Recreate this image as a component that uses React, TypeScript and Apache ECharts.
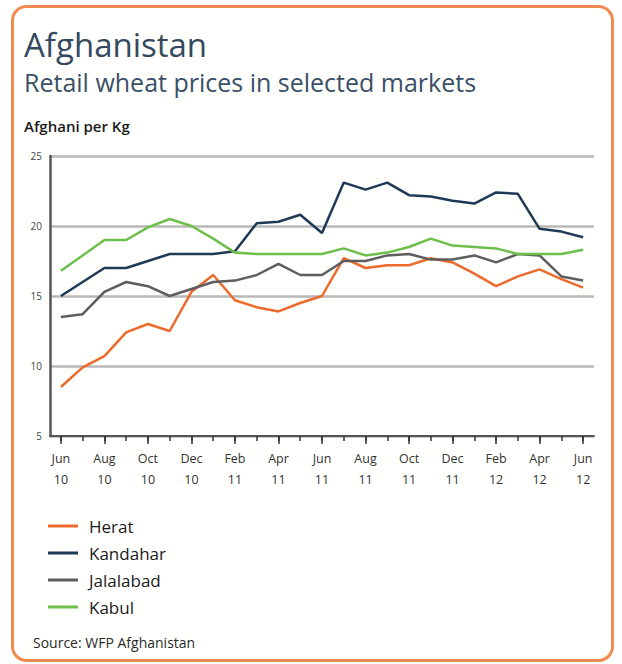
import React, { useEffect, useRef } from "react";
import * as echarts from "echarts";

const months = [
  "Jun 10", "Jul 10", "Aug 10", "Sep 10", "Oct 10", "Nov 10", "Dec 10",
  "Jan 11", "Feb 11", "Mar 11", "Apr 11", "May 11", "Jun 11", "Jul 11",
  "Aug 11", "Sep 11", "Oct 11", "Nov 11", "Dec 11", "Jan 12", "Feb 12",
  "Mar 12", "Apr 12", "May 12", "Jun 12",
];

const herat = [8.5, 9.9, 10.7, 12.4, 13.0, 12.5, 15.3, 16.5, 14.7, 14.2, 13.9, 14.5, 15.0, 17.7, 17.0, 17.2, 17.2, 17.7, 17.4, 16.6, 15.7, 16.4, 16.9, 16.2, 15.6];
const kandahar = [15.0, 16.0, 17.0, 17.0, 17.5, 18.0, 18.0, 18.0, 18.2, 20.2, 20.3, 20.8, 19.5, 23.1, 22.6, 23.1, 22.2, 22.1, 21.8, 21.6, 22.4, 22.3, 19.8, 19.6, 19.2];
const jalalabad = [13.5, 13.7, 15.3, 16.0, 15.7, 15.0, 15.5, 16.0, 16.1, 16.5, 17.3, 16.5, 16.5, 17.5, 17.5, 17.9, 18.0, 17.6, 17.6, 17.9, 17.4, 18.0, 17.9, 16.4, 16.1];
const kabul = [16.8, 17.9, 19.0, 19.0, 19.9, 20.5, 20.0, 19.1, 18.1, 18.0, 18.0, 18.0, 18.0, 18.4, 17.9, 18.1, 18.5, 19.1, 18.6, 18.5, 18.4, 18.0, 18.0, 18.0, 18.3];

const seriesNames = ["Herat", "Kandahar", "Jalalabad", "Kabul"];
const seriesData = [herat, kandahar, jalalabad, kabul];
const seriesColors = ["#ec6a2c", "#1f3a56", "#5e5e60", "#6dbf4b"];

const titleText = "Afghanistan";
const subtitleText = "Retail wheat prices in selected markets";
const unitText = "Afghani per Kg";
const sourceText = "Source: WFP Afghanistan";

const FONT = "'Open Sans', 'Noto Sans', sans-serif";

export default function App() {
  const ref = useRef<HTMLDivElement>(null);

  useEffect(() => {
    if (!ref.current) return;
    const chart = echarts.init(ref.current, undefined, { renderer: "svg" });
    chart.setOption({
      animation: false,
      backgroundColor: "#ffffff",
      textStyle: { fontFamily: FONT },
      graphic: [
        {
          type: "rect",
          left: 11,
          top: 5,
          shape: { width: 600, height: 654, r: 14 },
          style: { fill: "#fffffe", stroke: "#f28a50", lineWidth: 3 },
          z: -10,
        },
        {
          type: "text",
          left: 24,
          top: 28,
          style: { text: titleText, fontSize: 33, fill: "#34495e", fontFamily: FONT },
        },
        {
          type: "text",
          left: 24,
          top: 69,
          style: { text: subtitleText, fontSize: 25, fill: "#3a5066", fontFamily: FONT },
        },
        {
          type: "text",
          left: 24,
          top: 118,
          style: { text: unitText, fontSize: 15, fontWeight: 600, fill: "#1a1a1a", fontFamily: FONT },
        },
        {
          type: "text",
          left: 33,
          top: 635,
          style: { text: sourceText, fontSize: 14, fill: "#2a2a2a", fontFamily: FONT },
        },
      ],
      legend: {
        orient: "vertical",
        left: 43,
        top: 512,
        icon: "rect",
        itemWidth: 30,
        itemHeight: 3,
        itemGap: 9,
        data: seriesNames,
        textStyle: { fontSize: 17, color: "#1a1a1a", lineHeight: 18, padding: [0, 0, 0, 6], fontFamily: FONT },
      },
      grid: { left: 50, right: 28, top: 156, bottom: 228, containLabel: false },
      xAxis: [
        {
          type: "category",
          data: months,
          boundaryGap: true,
          axisLine: { show: true, lineStyle: { color: "#555", width: 2 } },
          axisTick: { show: true, alignWithLabel: true, interval: 0, length: 5, lineStyle: { color: "#333", width: 1.5 } },
          axisLabel: {
            interval: 1,
            fontSize: 12.5,
            color: "#333",
            lineHeight: 21,
            margin: 12,
            formatter: (v: string) => v.replace(" ", "\n"),
          },
          splitLine: { show: false },
        },
        {
          type: "category",
          data: months,
          position: "bottom",
          boundaryGap: true,
          axisLine: { show: false },
          axisTick: { show: true, alignWithLabel: true, interval: 1, length: 8, lineStyle: { color: "#333", width: 1.5 } },
          axisLabel: { show: false },
          splitLine: { show: false },
        },
      ],
      yAxis: {
        type: "value",
        min: 5,
        max: 25,
        interval: 5,
        axisLine: { show: true, lineStyle: { color: "#555", width: 2.5 } },
        axisTick: { show: false },
        axisLabel: { fontSize: 10, color: "#444", margin: 8, padding: [0, 0, 6, 0] },
        splitLine: { show: true, lineStyle: { color: "#b8b8b8", width: 2.5 } },
      },
      series: seriesNames.map((name, i) => ({
        name,
        type: "line",
        data: seriesData[i],
        xAxisIndex: 0,
        symbol: "none",
        lineStyle: { color: seriesColors[i], width: 2.5 },
        itemStyle: { color: seriesColors[i] },
      })),
    });
    return () => chart.dispose();
  }, []);

  return <div ref={ref} style={{ position: "fixed", left: 0, top: 0, width: 622, height: 664 }} />;
}
